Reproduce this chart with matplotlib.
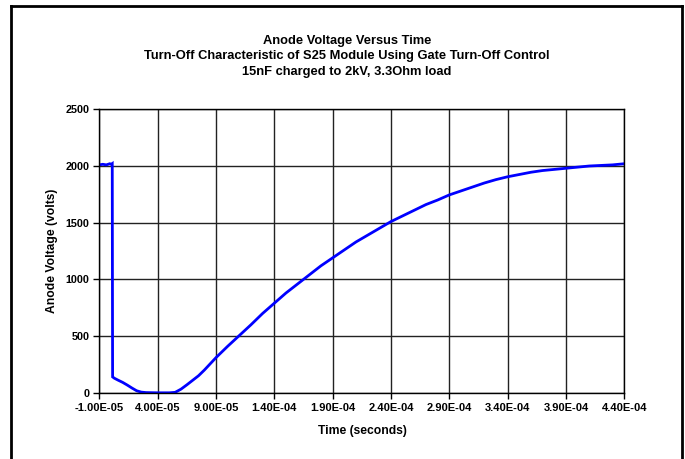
import matplotlib
matplotlib.use("Agg")
import matplotlib.pyplot as plt
from matplotlib.lines import Line2D
from matplotlib.ticker import FixedLocator, MultipleLocator, FuncFormatter

plt.rcParams['font.family'] = ['Liberation Sans', 'DejaVu Sans']

# Data (time in seconds, anode voltage in volts)
time_s = [-1.0e-5, -0.7e-5, -0.4e-5, -0.1e-5, 0.5e-6, 1.1e-6, 1.4e-6, 3e-6, 6e-6, 1.0e-5,
          1.4e-5, 1.8e-5, 2.2e-5, 2.6e-5, 3.0e-5, 4.0e-5, 5.0e-5, 5.5e-5, 6.0e-5,
          6.5e-5, 7.0e-5, 7.5e-5, 8.0e-5, 8.5e-5, 9.0e-5, 1.0e-4, 1.1e-4, 1.2e-4,
          1.3e-4, 1.4e-4, 1.5e-4, 1.6e-4, 1.7e-4, 1.8e-4, 1.9e-4, 2.0e-4, 2.1e-4,
          2.2e-4, 2.3e-4, 2.4e-4, 2.5e-4, 2.6e-4, 2.7e-4, 2.8e-4, 2.9e-4, 3.0e-4,
          3.1e-4, 3.2e-4, 3.3e-4, 3.4e-4, 3.5e-4, 3.6e-4, 3.7e-4, 3.8e-4, 3.9e-4,
          4.0e-4, 4.1e-4, 4.2e-4, 4.3e-4, 4.4e-4]
voltage = [2010, 2015, 2010, 2020, 2015, 2020, 140, 128, 112, 92,
           68, 42, 18, 6, 2, 0, 0, 4, 32,
           70, 110, 150, 200, 255, 310, 410, 505, 600,
           700, 790, 880, 960, 1040, 1120, 1190, 1260, 1330,
           1390, 1450, 1510, 1560, 1610, 1660, 1700, 1745, 1780,
           1815, 1850, 1880, 1905, 1925, 1945, 1960, 1970, 1980,
           1990, 2000, 2005, 2010, 2020]

x_ticks = [-1.0e-5, 4.0e-5, 9.0e-5, 1.4e-4, 1.9e-4, 2.4e-4, 2.9e-4, 3.4e-4, 3.9e-4, 4.4e-4]
y_ticks = [0, 500, 1000, 1500, 2000, 2500]

title_lines = ["Anode Voltage Versus Time",
               "Turn-Off Characteristic of S25 Module Using Gate Turn-Off Control",
               "15nF charged to 2kV, 3.3Ohm load"]
x_label = "Time (seconds)"
y_label = "Anode Voltage (volts)"

W, H = 685, 459
fig = plt.figure(figsize=(W / 100, H / 100), dpi=100)
ax = fig.add_axes([99.3 / W, 1 - 392.8 / H, (624.3 - 99.3) / W, (392.8 - 109.3) / H])

ax.plot(time_s, voltage, color='#0000FF', linewidth=2.0, solid_joinstyle='miter')

ax.set_xlim(x_ticks[0], x_ticks[-1])
ax.set_ylim(y_ticks[0], y_ticks[-1])
ax.xaxis.set_major_locator(FixedLocator(x_ticks))
ax.yaxis.set_major_locator(FixedLocator(y_ticks))
ax.xaxis.set_major_formatter(FuncFormatter(lambda v, p: "{:.2E}".format(v)))
ax.yaxis.set_major_formatter(FuncFormatter(lambda v, p: "{:d}".format(int(round(v)))))
ax.grid(True, color='#222222', linewidth=1.0)
ax.set_axisbelow(True)
for s in ax.spines.values():
    s.set_color('black')
    s.set_linewidth(1.0)
ax.tick_params(direction='out', length=4, width=1.0, colors='black', pad=3)
ax.tick_params(axis='x', labelsize=8)
ax.tick_params(axis='y', labelsize=7.8)
for lab in ax.get_xticklabels() + ax.get_yticklabels():
    lab.set_fontweight('bold')

# Titles and axis labels
ys = [41, 56, 72]
for t, y in zip(title_lines, ys):
    fig.text(347 / W, 1 - y / H, t, ha='center', va='center', fontsize=9.3, fontweight='bold')
fig.text(362 / W, 1 - 431 / H, x_label, ha='center', va='center', fontsize=8.7, fontweight='bold')
fig.text(52 / W, 1 - 251 / H, y_label, ha='center', va='center', rotation=90,
         fontsize=8.7, fontweight='bold')

# Outer frame (top, left, right)
lw = 2.0
fig.add_artist(Line2D([11 / W, 681.5 / W], [1 - 5.5 / H, 1 - 5.5 / H], transform=fig.transFigure,
                      color='black', linewidth=lw))
fig.add_artist(Line2D([11 / W, 11 / W], [1 - 5.5 / H, 0], transform=fig.transFigure,
                      color='black', linewidth=lw))
fig.add_artist(Line2D([681.5 / W, 681.5 / W], [1 - 5.5 / H, 0], transform=fig.transFigure,
                      color='black', linewidth=lw))

fig.savefig("out.png", dpi=100)
